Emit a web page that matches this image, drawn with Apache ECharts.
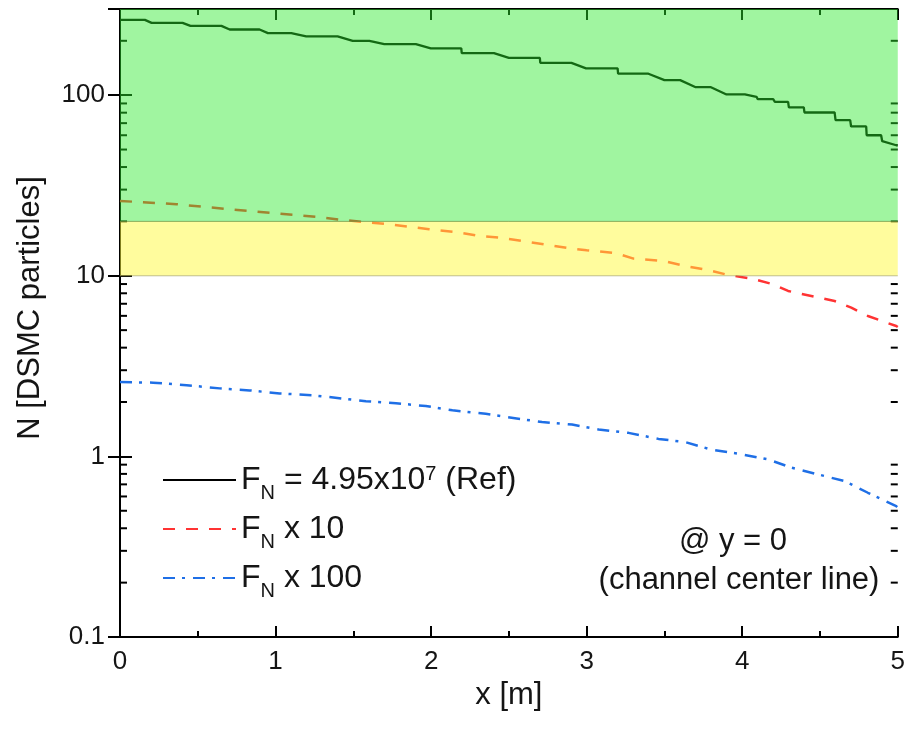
<!DOCTYPE html>
<html><head><meta charset="utf-8">
<script src="https://cdn.jsdelivr.net/npm/echarts@6/dist/echarts.min.js"></script>
<style>html,body{margin:0;padding:0;background:#fff}#c{width:908px;height:731px}</style>
</head><body><div id="c"></div>
<script>
// F_N = 4.95x10^7 (Ref) — staircase vertices
const refX = [0, 0.160, 0.203, 0.402, 0.453, 0.652, 0.705, 0.897, 0.951, 1.101, 1.197, 1.399, 1.496, 1.603, 1.699, 1.902, 1.998, 2.194, 2.197, 2.404, 2.500, 2.699, 2.702, 2.902, 2.996, 3.199, 3.202, 3.397, 3.500, 3.601, 3.701, 3.799, 3.899, 4.017, 4.092, 4.100, 4.199, 4.210, 4.295, 4.300, 4.396, 4.400, 4.594, 4.600, 4.694, 4.700, 4.797, 4.800, 4.893, 4.900, 4.990, 5.0];
const refN = [261, 261, 251.5, 251.5, 242, 242, 231, 231, 220.6, 220.6, 211.4, 211.4, 200, 200, 191.7, 191.7, 181.4, 181.4, 170.9, 170.9, 160.9, 160.9, 151, 151, 140.6, 140.6, 131.5, 131.5, 121.1, 121.1, 110.7, 110.7, 100.9, 100.9, 97.9, 95.0, 95.0, 91.8, 91.8, 85.5, 85.5, 80.2, 80.2, 72.7, 72.7, 67.1, 67.1, 60.0, 60.0, 55.6, 52.8, 52.8];
// F_N x 10
const x10X = [0, 0.363, 0.822, 1.271, 1.429, 1.731, 1.987, 2.179, 2.308, 2.436, 2.628, 2.904, 3.000, 3.192, 3.301, 3.494, 3.633, 3.782, 3.910, 4.060, 4.199, 4.295, 4.444, 4.594, 4.701, 4.808, 4.990, 5.0];
const x10N = [25.97, 24.9, 22.86, 21.17, 20.38, 19.29, 18.1, 17.35, 16.62, 16.28, 15.39, 14.15, 13.85, 13.33, 12.45, 12.08, 11.33, 10.77, 10.1, 9.65, 8.97, 8.24, 7.73, 7.25, 6.66, 5.99, 5.27, 5.2];
// F_N x 100
const x100X = [0, 0.213, 0.428, 0.641, 0.833, 1.026, 1.239, 1.431, 1.581, 1.774, 1.966, 2.137, 2.351, 2.489, 2.713, 2.906, 3.077, 3.269, 3.462, 3.633, 3.803, 3.974, 4.167, 4.316, 4.487, 4.658, 4.808, 4.990, 5.0];
const x100N = [2.58, 2.56, 2.48, 2.38, 2.32, 2.23, 2.18, 2.09, 2.02, 1.97, 1.90, 1.80, 1.72, 1.65, 1.55, 1.50, 1.41, 1.35, 1.25, 1.20, 1.09, 1.035, 0.962, 0.866, 0.795, 0.730, 0.629, 0.530, 0.52];

const seriesNames = ['ref', 'x10', 'x100'];
const bandRanges = [[20, 300], [10, 20]];
const yMajorLabels = [0.1, 1, 10, 100];
const yMinorTicks = [0.2,0.3,0.4,0.5,0.6,0.7,0.8,0.9, 2,3,4,5,6,7,8,9, 20,30,40,50,60,70,80,90, 200];
const xRange = [0, 5];
const yRange = [0.1, 300];

const FONT = '"Liberation Sans", Arial, sans-serif';
const TXT = '#151515';
const bandFill = ['rgba(44,233,44,0.45)', 'rgba(255,250,60,0.5)'];
const bandStroke = ['rgba(60,110,60,0.7)', 'rgba(150,150,100,0.6)'];

const chart = echarts.init(document.getElementById('c'), null, {renderer: 'canvas'});

function pairs(xs, ys) { return xs.map((x, i) => [x, ys[i]]); }

const axisLine = {show: true, lineStyle: {color: '#000', width: 2}};
const tickStyle = {color: '#000', width: 2};

const legendRich = {
  a: {fontSize: 32, fontFamily: FONT, color: TXT, lineHeight: 46},
  s: {fontSize: 20, fontFamily: FONT, color: TXT, lineHeight: 20, verticalAlign: 'bottom'},
  p: {fontSize: 20, fontFamily: FONT, color: TXT, lineHeight: 18, verticalAlign: 'top', padding: [7, 0, 0, 0]}
};
const legendText = {
  ref: '{a|F}{s|N}{a| = 4.95x10}{p|7}{a| (Ref)}',
  x10: '{a|F}{s|N}{a| x 10}',
  x100: '{a|F}{s|N}{a| x 100}'
};

const option = {
  animation: false,
  backgroundColor: '#fff',
  textStyle: {fontFamily: FONT},
  grid: {left: 120, right: 8, top: 9, bottom: 94, containLabel: false},
  legend: {
    data: seriesNames,
    orient: 'vertical', left: 162, top: 457, padding: 0,
    itemWidth: 73, itemHeight: 24, itemGap: 10,
    formatter: n => legendText[n],
    itemStyle: {opacity: 0},
    textStyle: {rich: legendRich},
    selectedMode: false
  },
  xAxis: [{
    type: 'value', min: xRange[0], max: xRange[1], interval: 1, position: 'bottom',
    axisLine, axisTick: {show: true, inside: true, length: 11, lineStyle: tickStyle},
    minorTick: {show: true, splitNumber: 2, length: 6, lineStyle: tickStyle},
    splitLine: {show: false}, minorSplitLine: {show: false},
    axisLabel: {fontSize: 26, color: TXT, margin: 12, fontFamily: FONT},
    name: 'x [m]', nameLocation: 'middle', nameGap: 37,
    nameTextStyle: {fontSize: 31, color: TXT, fontFamily: FONT}
  }, {
    type: 'value', min: xRange[0], max: xRange[1], interval: 1, position: 'top',
    axisLine, axisTick: {show: true, inside: true, length: 11, lineStyle: tickStyle},
    minorTick: {show: true, splitNumber: 2, length: 6, lineStyle: tickStyle},
    splitLine: {show: false}, axisLabel: {show: false}
  }],
  yAxis: [{
    type: 'log', logBase: 10, min: yRange[0], max: yRange[1], position: 'left',
    axisLine, axisTick: {show: true, inside: true, length: 12, lineStyle: tickStyle},
    splitLine: {show: false},
    axisLabel: {
      fontSize: 26, color: TXT, margin: 15, fontFamily: FONT,
      formatter: v => {
        const m = yMajorLabels.find(t => Math.abs(t - v) / t < 1e-6);
        return m === undefined ? '' : String(m);
      }
    },
    name: 'N [DSMC particles]', nameLocation: 'middle', nameGap: 74, nameRotate: 90,
    nameTextStyle: {fontSize: 31, color: TXT, fontFamily: FONT, padding: [0, 0, 0, 30]}
  }, {
    type: 'log', logBase: 10, min: yRange[0], max: yRange[1], position: 'right',
    axisLine, axisTick: {show: true, inside: true, length: 12, lineStyle: tickStyle},
    splitLine: {show: false}, axisLabel: {show: false}
  }],
  series: [
    {
      name: 'ref', type: 'line', data: pairs(refX, refN), showSymbol: false, symbol: 'none',
      z: 2, lineStyle: {color: '#000', width: 2.3, type: 'solid'}, itemStyle: {color: '#000'}
    },
    {
      name: 'x10', type: 'line', data: pairs(x10X, x10N), showSymbol: false, symbol: 'none',
      z: 2, lineStyle: {color: '#ff3333', width: 2.5, type: [12, 11]}, itemStyle: {color: '#ff3333'}
    },
    {
      name: 'x100', type: 'line', data: pairs(x100X, x100N), showSymbol: false, symbol: 'none',
      z: 2, lineStyle: {color: '#1f6fe6', width: 2.5, type: [12, 7, 3, 8]}, itemStyle: {color: '#1f6fe6'}
    },
    {
      type: 'custom', z: 3, silent: true, clip: false,
      data: yMinorTicks.map(v => [xRange[0], v]),
      encode: {x: 0, y: 1},
      renderItem: (params, api) => {
        const v = api.value(1);
        const a = api.coord([xRange[0], v]);
        const b = api.coord([xRange[1], v]);
        return {type: 'group', children: [
          {type: 'line', shape: {x1: a[0], y1: a[1], x2: a[0] + 7, y2: a[1]}, style: {stroke: '#000', lineWidth: 2}},
          {type: 'line', shape: {x1: b[0] - 7, y1: b[1], x2: b[0], y2: b[1]}, style: {stroke: '#000', lineWidth: 2}}
        ]};
      }
    },
    {
      type: 'custom', z: 5, silent: true,
      data: bandRanges.map((r, i) => [xRange[0], r[0], r[1], i]),
      encode: {x: 0, y: [1, 2]},
      renderItem: (params, api) => {
        const lo = api.value(1), hi = api.value(2), i = api.value(3);
        const p1 = api.coord([xRange[0], hi]);
        const p2 = api.coord([xRange[1], lo]);
        return {type: 'group', children: [
          {type: 'rect', shape: {x: p1[0], y: p1[1], width: p2[0] - p1[0], height: p2[1] - p1[1]},
           style: {fill: bandFill[i]}},
          {type: 'line', shape: {x1: p1[0], y1: p2[1], x2: p2[0], y2: p2[1]},
           style: {stroke: bandStroke[i], lineWidth: 1}}
        ]};
      }
    }
  ],
  graphic: [
    {type: 'text', style: {text: '@ y = 0', x: 733, y: 541, fontSize: 31, fontFamily: FONT, fill: TXT, textAlign: 'center', textVerticalAlign: 'middle'}},
    {type: 'text', style: {text: '(channel center line)', x: 739, y: 580, fontSize: 31, fontFamily: FONT, fill: TXT, textAlign: 'center', textVerticalAlign: 'middle'}}
  ]
};
chart.setOption(option);
</script>
</body></html>
